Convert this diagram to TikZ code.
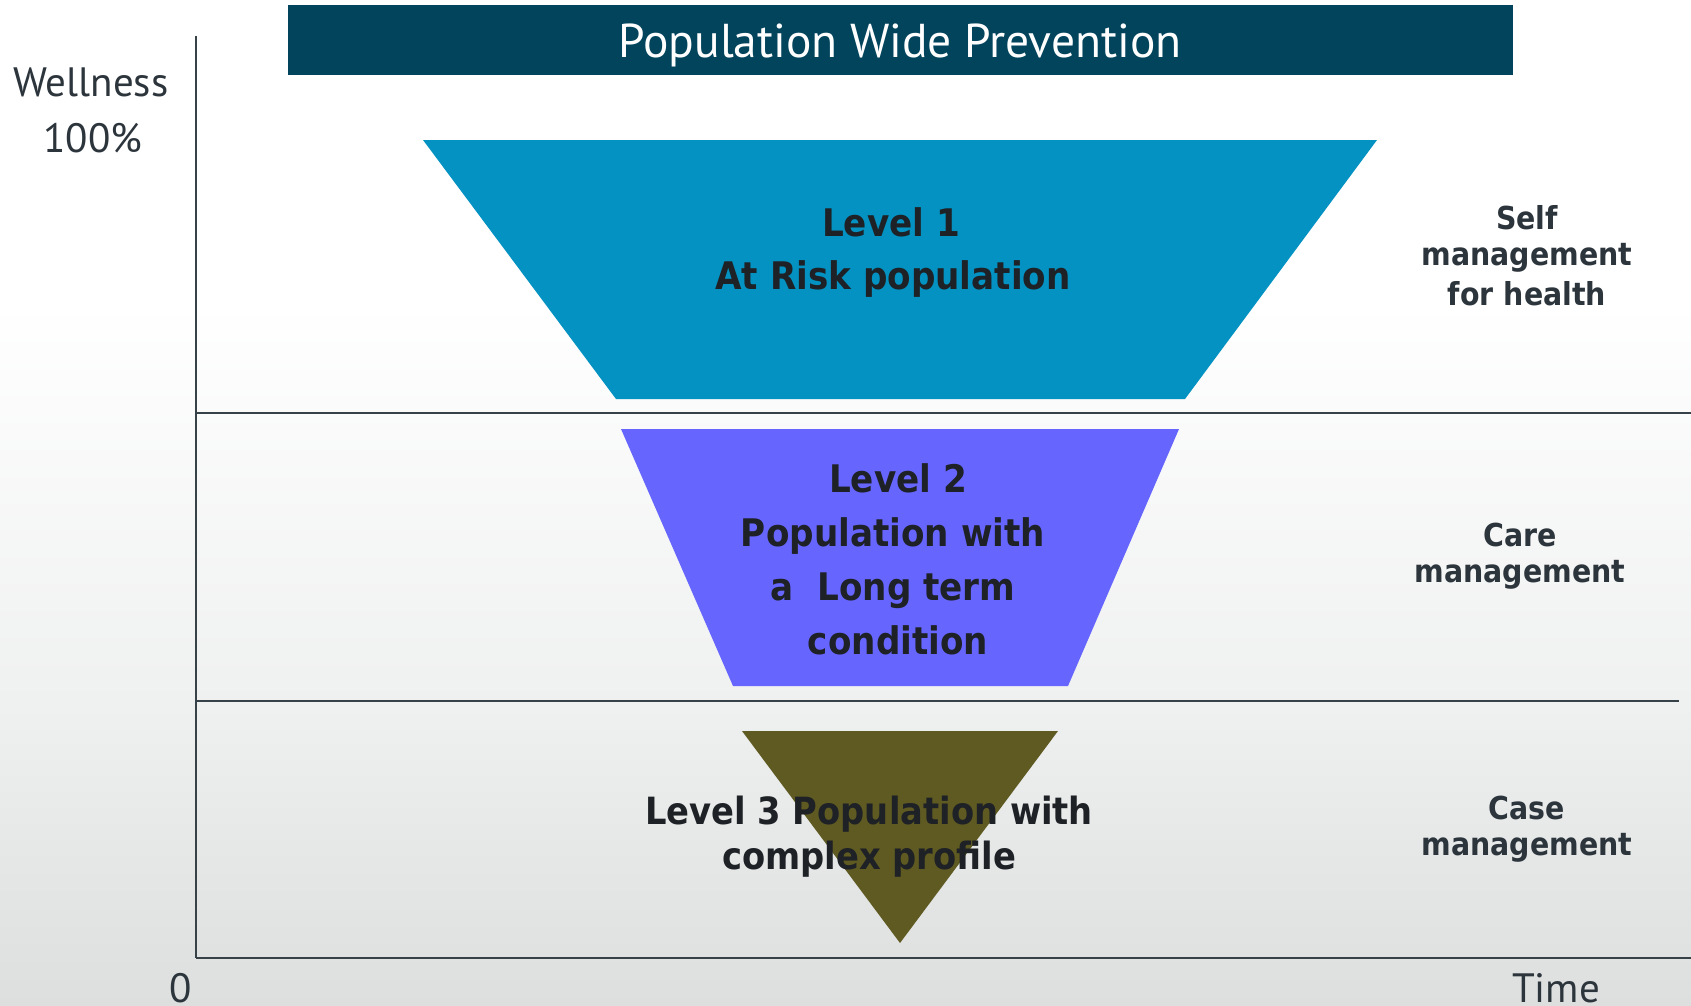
\documentclass[tikz,border=0pt]{standalone}
\usepackage{fontspec}
\setmainfont{PT Sans}
\newfontfamily\lightf{PT Sans}
\newfontfamily\boldf[FakeStretch=0.9]{DejaVu Sans}
\definecolor{titleblue}{RGB}{2,68,92}
\definecolor{lvlone}{RGB}{3,146,194}
\definecolor{lvltwo}{RGB}{102,102,255}
\definecolor{lvlthree}{RGB}{95,90,34}
\definecolor{labelgray}{RGB}{45,53,60}
\definecolor{boldtext}{RGB}{30,33,37}
\definecolor{axisgray}{RGB}{55,65,72}
\definecolor{bgbot}{RGB}{220,223,222}
\definecolor{bgmid}{RGB}{239,240,240}
\pgfdeclareverticalshading{bgshade}{100bp}{color(0bp)=(bgbot); color(25bp)=(bgbot); color(40bp)=(bgmid); color(60bp)=(white); color(100bp)=(white)}
\begin{document}
\begin{tikzpicture}[x=1pt,y=-1pt,
  axislbl/.style={text=labelgray, font=\lightf\fontsize{41}{48}\selectfont, inner sep=0, anchor=base},
  lvltext/.style={text=boldtext, font=\boldf\bfseries\fontsize{38}{44}\selectfont, inner sep=0, anchor=base},
  lvlthreetext/.style={text=boldtext, font=\boldf\bfseries\fontsize{37.5}{44}\selectfont, inner sep=0, anchor=base},
  sidetext/.style={text=labelgray, font=\boldf\bfseries\fontsize{31.6}{38}\selectfont, inner sep=0, anchor=base},
  vaxis/.style={draw=axisgray, line width=1.6pt},
  haxis/.style={draw=axisgray, line width=2.6pt},
  divider/.style={draw=axisgray, line width=1.6pt}]
\useasboundingbox (0,0) rectangle (1691,1006);
\shade[shading=bgshade] (0,0) rectangle (1691,1006);
% title bar
\node (title) [fill=titleblue, minimum width=1225pt, minimum height=70pt, inner sep=0] at (900.5,40) {};
\node (titletext) [text=white, font=\lightf\fontsize{47.5}{54}\selectfont, inner sep=0, anchor=base] at (900,58) {Population Wide Prevention};
% axes
\coordinate (ytop) at (196,36);
\coordinate (origin) at (196,958);
\coordinate (xend) at (1691,958);
\draw[vaxis] (ytop) -- (origin);
\draw[haxis] (origin) -- (xend);
\coordinate (d1a) at (196,413);
\coordinate (d1b) at (1691,413);
\coordinate (d2a) at (196,701);
\coordinate (d2b) at (1679,701);
\draw[divider] (d1a) -- (d1b);
\draw[divider] (d2a) -- (d2b);
% shapes
\fill[lvlone] (423,140) -- (1377,140) -- (1185,399) -- (616,399) -- cycle;
\fill[lvltwo] (621,429) -- (1179,429) -- (1068,686) -- (733,686) -- cycle;
\fill[lvlthree] (742,731) -- (1058,731) -- (900,943) -- cycle;
% axis labels
\node[axislbl] (well) at (91,97) {Wellness};
\node[axislbl] (hundred) at (93,152) {100\%};
\node[axislbl] (zero) at (181,1002) {0};
\node[axislbl] (time) at (1556,1002) {Time};
% level texts
\node[lvltext] (l1a) at (891,236) {Level 1};
\node[lvltext] (l1b) at (893,289) {At Risk population};
\node[lvltext] (l2a) at (898,492) {Level 2};
\node[lvltext] (l2b) at (893,546) {Population with};
\node[lvltext] (l2c) at (893,600) {a\ \ Long term};
\node[lvltext] (l2d) at (898,654) {condition};
\node[lvlthreetext] (l3a) at (869,824) {Level 3 Population with};
\node[lvlthreetext] (l3b) at (869,869) {complex profile};
% side texts
\node[sidetext] (s1a) at (1527,229) {Self};
\node[sidetext] (s1b) at (1527,265) {management};
\node[sidetext] (s1c) at (1527,305) {for health};
\node[sidetext] (s2a) at (1520,546) {Care};
\node[sidetext] (s2b) at (1520,582) {management};
\node[sidetext] (s3a) at (1527,819) {Case};
\node[sidetext] (s3b) at (1527,855) {management};
\end{tikzpicture}
\end{document}
